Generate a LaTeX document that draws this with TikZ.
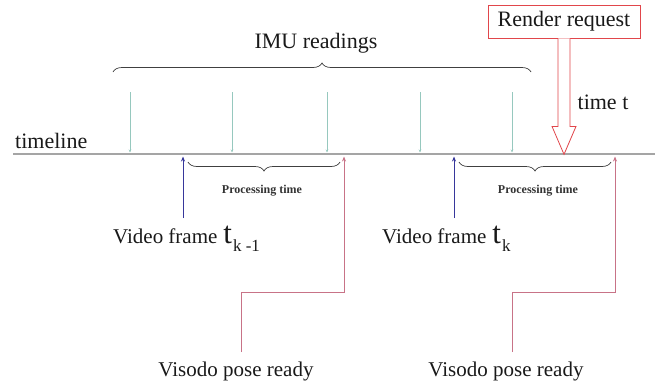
\documentclass[tikz,border=0pt]{standalone}
\usepackage{fontspec}
\setmainfont{Liberation Serif}
\newfontfamily\labelserif{Liberation Serif}
\usetikzlibrary{decorations.pathreplacing,arrows.meta,calc}

\definecolor{imu}{RGB}{150,200,190}
\definecolor{frameblue}{RGB}{55,55,155}
\definecolor{poserose}{RGB}{200,115,135}
\definecolor{reqred}{RGB}{225,70,75}
\definecolor{linegray}{RGB}{165,165,165}

\begin{document}
\begin{tikzpicture}[x=1pt,y=-1pt,
  lbl/.style={font=\labelserif\fontsize{22}{24}\selectfont, inner sep=0pt, text=black!90},
  lblm/.style={font=\labelserif\fontsize{21}{24}\selectfont, inner sep=0pt, text=black!90},
  small/.style={font=\labelserif\bfseries\fontsize{12}{14}\selectfont, inner sep=0pt, text=black!80},
  imutick/.style={draw=imu, line width=0.6pt, -{Stealth[length=3pt,width=2.5pt]}},
  framearrow/.style={draw=frameblue, line width=0.8pt, -{Stealth[length=5pt,width=4pt]}},
  posearrow/.style={draw=poserose, line width=1pt, -{Stealth[length=5pt,width=4pt]}},
  span/.style={decorate, decoration={brace, amplitude=9pt}, draw=black!75, line width=0.7pt},
]
\useasboundingbox (0,0) rectangle (670,389);

% time axis
\coordinate (tl0) at (13,154);
\coordinate (tl1) at (655,154);
\draw[linegray, line width=2.2pt] (tl0) -- (tl1);
\node[lbl, anchor=base west] (tlabel) at (15,148) {timeline};

% IMU samples
\foreach \x in {130,232,327,420,512} {
  \coordinate (imuA\x) at (\x,92);
  \coordinate (imuB\x) at (\x,152.5);
  \draw[imutick] (imuA\x) -- (imuB\x);
}
\coordinate (bra0) at (113,72);
\coordinate (bra1) at (531,72);
\draw[span] (bra0) -- (bra1);
\node[lbl] (imulabel) at (316,43) {IMU readings};

% render request
\node[lbl, draw=reqred, line width=0.8pt, fill=white, minimum width=152pt,
      minimum height=33pt] (rr) at (564,21.5) {Render request};
\draw[reqred, line width=0.8pt, fill=white]
  ($(rr.south)+(-6,0)$) -- ++(0,88) -- ++(-6,0) -- ++(12,28) -- ++(12,-28)
  -- ++(-6,0) -- ++(0,-88);
\node[lbl] (timet) at (603,102) {time t};

% processing intervals
\coordinate (pa0) at (340,162);
\coordinate (pa1) at (188,162);
\draw[span] (pa0) -- (pa1);
\node[small] (proc1) at (262,191) {Processing time};
\coordinate (pb0) at (611,162);
\coordinate (pb1) at (459,162);
\draw[span] (pb0) -- (pb1);
\node[small] (proc2) at (538,191) {Processing time};

% video frames
\coordinate (vf1a) at (183,218);
\coordinate (vf1b) at (183,156.5);
\draw[framearrow] (vf1a) -- (vf1b);
\coordinate (vf2a) at (454,218);
\coordinate (vf2b) at (454,156.5);
\draw[framearrow] (vf2a) -- (vf2b);
\node[lblm, anchor=base west] (vf1) at (113,243)
  {Video frame\hspace{6pt}{\fontsize{31}{31}\selectfont t}\hspace{1pt}\raisebox{-8pt}{\fontsize{17}{17}\selectfont k -1}};
\node[lblm, anchor=base west] (vf2) at (382,243)
  {Video frame\hspace{6pt}{\fontsize{31}{31}\selectfont t}\hspace{1pt}\raisebox{-8pt}{\fontsize{17}{17}\selectfont k}};

% pose ready
\node[lblm] (pr1) at (236,371) {Visodo pose ready};
\node[lblm] (pr2) at (506,371) {Visodo pose ready};
\coordinate (pr1a) at (241,352);
\coordinate (pr1b) at (344,156.5);
\draw[posearrow] (pr1a) -- (241,292) -- (344,292) -- (pr1b);
\coordinate (pr2a) at (512,352);
\coordinate (pr2b) at (615,156.5);
\draw[posearrow] (pr2a) -- (512,292) -- (615,292) -- (pr2b);
\end{tikzpicture}
\end{document}
